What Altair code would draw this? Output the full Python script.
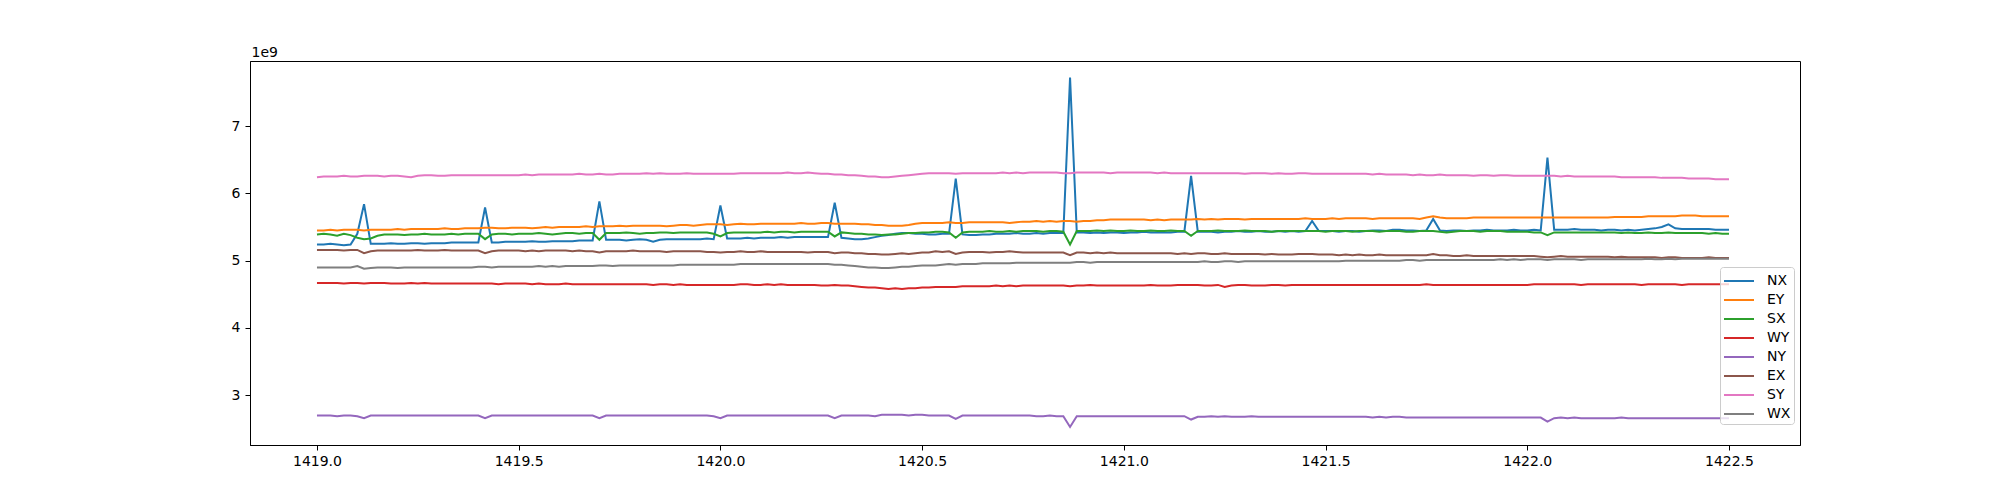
import altair as alt
import pandas as pd

# time axis: 211 samples from 1419.0 to 1422.5
T0 = 1419.0
N = 211
STEP = 1 / 60

series_names = ["NX", "EY", "SX", "WY", "NY", "EX", "SY", "WX"]
series_colors = ["#1f77b4", "#ff7f0e", "#2ca02c", "#d62728",
                 "#9467bd", "#8c564b", "#e377c2", "#7f7f7f"]

# values in units of 1e9
NX = [5.24, 5.24, 5.25, 5.24, 5.23, 5.24, 5.40, 5.84, 5.25, 5.25,
      5.25, 5.26, 5.25, 5.25, 5.26, 5.26, 5.25, 5.26, 5.26, 5.26,
      5.27, 5.27, 5.27, 5.27, 5.27, 5.79, 5.27, 5.27, 5.28, 5.28,
      5.28, 5.28, 5.29, 5.28, 5.28, 5.29, 5.29, 5.29, 5.29, 5.30,
      5.30, 5.30, 5.88, 5.31, 5.31, 5.31, 5.30, 5.31, 5.32, 5.31,
      5.28, 5.31, 5.32, 5.32, 5.32, 5.32, 5.32, 5.32, 5.33, 5.32,
      5.82, 5.33, 5.33, 5.33, 5.34, 5.33, 5.34, 5.34, 5.34, 5.35,
      5.34, 5.35, 5.35, 5.35, 5.35, 5.35, 5.35, 5.86, 5.34, 5.33,
      5.32, 5.32, 5.33, 5.35, 5.37, 5.38, 5.40, 5.41, 5.41, 5.40,
      5.40, 5.39, 5.39, 5.40, 5.40, 6.22, 5.39, 5.38, 5.38, 5.39,
      5.39, 5.40, 5.40, 5.40, 5.41, 5.40, 5.40, 5.41, 5.40, 5.41,
      5.41, 5.41, 7.72, 5.42, 5.42, 5.41, 5.42, 5.41, 5.42, 5.42,
      5.41, 5.42, 5.42, 5.43, 5.42, 5.42, 5.42, 5.42, 5.43, 5.43,
      6.26, 5.43, 5.43, 5.43, 5.42, 5.43, 5.43, 5.44, 5.43, 5.43,
      5.44, 5.43, 5.43, 5.44, 5.43, 5.44, 5.43, 5.44, 5.59, 5.44,
      5.44, 5.44, 5.43, 5.44, 5.44, 5.43, 5.44, 5.45, 5.45, 5.44,
      5.46, 5.46, 5.45, 5.45, 5.44, 5.45, 5.62, 5.45, 5.44, 5.45,
      5.45, 5.44, 5.45, 5.45, 5.46, 5.45, 5.45, 5.45, 5.46, 5.45,
      5.45, 5.46, 5.45, 6.53, 5.46, 5.46, 5.46, 5.47, 5.46, 5.46,
      5.46, 5.45, 5.46, 5.46, 5.45, 5.46, 5.45, 5.46, 5.47, 5.48,
      5.50, 5.54, 5.48, 5.47, 5.47, 5.47, 5.47, 5.47, 5.46, 5.46,
      5.46]

EY = [5.45, 5.45, 5.46, 5.45, 5.46, 5.46, 5.46, 5.45, 5.46, 5.46,
      5.46, 5.46, 5.47, 5.46, 5.47, 5.47, 5.47, 5.47, 5.47, 5.48,
      5.47, 5.47, 5.48, 5.48, 5.48, 5.49, 5.49, 5.48, 5.48, 5.49,
      5.49, 5.49, 5.48, 5.49, 5.50, 5.49, 5.50, 5.50, 5.50, 5.50,
      5.51, 5.50, 5.51, 5.51, 5.51, 5.52, 5.51, 5.52, 5.52, 5.52,
      5.52, 5.52, 5.51, 5.52, 5.53, 5.53, 5.52, 5.53, 5.54, 5.54,
      5.54, 5.53, 5.54, 5.55, 5.54, 5.54, 5.55, 5.55, 5.55, 5.55,
      5.55, 5.55, 5.56, 5.55, 5.55, 5.56, 5.56, 5.55, 5.55, 5.55,
      5.55, 5.54, 5.54, 5.53, 5.53, 5.52, 5.52, 5.52, 5.53, 5.55,
      5.56, 5.56, 5.56, 5.56, 5.57, 5.56, 5.56, 5.57, 5.57, 5.57,
      5.57, 5.57, 5.57, 5.56, 5.57, 5.58, 5.58, 5.59, 5.58, 5.59,
      5.58, 5.59, 5.59, 5.58, 5.59, 5.59, 5.60, 5.60, 5.61, 5.61,
      5.61, 5.61, 5.61, 5.61, 5.60, 5.61, 5.60, 5.61, 5.61, 5.61,
      5.61, 5.62, 5.61, 5.62, 5.61, 5.62, 5.62, 5.62, 5.61, 5.62,
      5.62, 5.62, 5.62, 5.62, 5.62, 5.62, 5.62, 5.63, 5.62, 5.62,
      5.62, 5.63, 5.62, 5.63, 5.63, 5.63, 5.63, 5.62, 5.63, 5.63,
      5.63, 5.63, 5.63, 5.63, 5.62, 5.64, 5.66, 5.64, 5.63, 5.63,
      5.63, 5.63, 5.64, 5.64, 5.64, 5.64, 5.64, 5.64, 5.64, 5.64,
      5.64, 5.64, 5.64, 5.64, 5.64, 5.64, 5.64, 5.64, 5.64, 5.64,
      5.64, 5.64, 5.64, 5.65, 5.65, 5.65, 5.65, 5.65, 5.66, 5.66,
      5.66, 5.66, 5.66, 5.67, 5.67, 5.67, 5.66, 5.66, 5.66, 5.66,
      5.66]

SX = [5.39, 5.40, 5.39, 5.37, 5.40, 5.38, 5.34, 5.32, 5.33, 5.37,
      5.39, 5.39, 5.39, 5.38, 5.39, 5.39, 5.40, 5.39, 5.39, 5.39,
      5.40, 5.39, 5.40, 5.40, 5.40, 5.32, 5.39, 5.40, 5.40, 5.39,
      5.40, 5.40, 5.40, 5.41, 5.40, 5.39, 5.40, 5.41, 5.41, 5.40,
      5.41, 5.41, 5.31, 5.41, 5.41, 5.41, 5.42, 5.41, 5.40, 5.41,
      5.41, 5.42, 5.42, 5.41, 5.42, 5.42, 5.42, 5.42, 5.42, 5.40,
      5.36, 5.41, 5.42, 5.42, 5.42, 5.42, 5.42, 5.43, 5.42, 5.43,
      5.43, 5.42, 5.43, 5.43, 5.43, 5.43, 5.43, 5.36, 5.42, 5.41,
      5.40, 5.40, 5.39, 5.39, 5.38, 5.39, 5.39, 5.40, 5.41, 5.41,
      5.42, 5.42, 5.43, 5.43, 5.42, 5.34, 5.42, 5.43, 5.43, 5.43,
      5.44, 5.43, 5.43, 5.44, 5.43, 5.44, 5.44, 5.44, 5.43, 5.44,
      5.44, 5.43, 5.24, 5.44, 5.44, 5.44, 5.45, 5.44, 5.45, 5.44,
      5.44, 5.45, 5.44, 5.44, 5.45, 5.44, 5.44, 5.45, 5.44, 5.44,
      5.37, 5.44, 5.44, 5.44, 5.45, 5.44, 5.44, 5.44, 5.45, 5.44,
      5.44, 5.44, 5.43, 5.44, 5.44, 5.44, 5.44, 5.44, 5.44, 5.44,
      5.43, 5.44, 5.44, 5.44, 5.43, 5.44, 5.44, 5.44, 5.43, 5.44,
      5.44, 5.44, 5.43, 5.43, 5.44, 5.44, 5.44, 5.43, 5.42, 5.43,
      5.44, 5.44, 5.44, 5.43, 5.44, 5.44, 5.44, 5.43, 5.43, 5.43,
      5.43, 5.42, 5.42, 5.38, 5.42, 5.42, 5.42, 5.42, 5.42, 5.42,
      5.42, 5.42, 5.42, 5.42, 5.41, 5.42, 5.41, 5.41, 5.42, 5.41,
      5.41, 5.42, 5.41, 5.41, 5.41, 5.41, 5.41, 5.40, 5.41, 5.40,
      5.40]

WY = [4.67, 4.67, 4.67, 4.67, 4.66, 4.67, 4.67, 4.66, 4.67, 4.67,
      4.67, 4.66, 4.66, 4.66, 4.67, 4.66, 4.67, 4.66, 4.66, 4.66,
      4.66, 4.66, 4.66, 4.66, 4.66, 4.66, 4.66, 4.65, 4.66, 4.66,
      4.66, 4.66, 4.65, 4.66, 4.65, 4.65, 4.65, 4.66, 4.65, 4.65,
      4.65, 4.65, 4.65, 4.65, 4.65, 4.65, 4.65, 4.65, 4.65, 4.65,
      4.64, 4.65, 4.65, 4.64, 4.65, 4.64, 4.64, 4.64, 4.64, 4.64,
      4.64, 4.64, 4.64, 4.65, 4.65, 4.64, 4.64, 4.65, 4.64, 4.65,
      4.64, 4.64, 4.64, 4.64, 4.64, 4.63, 4.63, 4.64, 4.63, 4.63,
      4.62, 4.61, 4.60, 4.60, 4.59, 4.58, 4.59, 4.58, 4.59, 4.59,
      4.60, 4.60, 4.61, 4.61, 4.61, 4.61, 4.62, 4.62, 4.62, 4.62,
      4.62, 4.63, 4.62, 4.63, 4.62, 4.63, 4.63, 4.63, 4.63, 4.63,
      4.63, 4.63, 4.62, 4.63, 4.63, 4.64, 4.63, 4.63, 4.63, 4.63,
      4.63, 4.63, 4.63, 4.63, 4.64, 4.63, 4.63, 4.63, 4.64, 4.64,
      4.64, 4.64, 4.63, 4.63, 4.64, 4.61, 4.63, 4.64, 4.64, 4.63,
      4.63, 4.63, 4.64, 4.64, 4.63, 4.64, 4.64, 4.64, 4.64, 4.64,
      4.64, 4.64, 4.64, 4.64, 4.64, 4.64, 4.64, 4.64, 4.64, 4.64,
      4.64, 4.64, 4.64, 4.64, 4.64, 4.65, 4.64, 4.64, 4.64, 4.64,
      4.64, 4.64, 4.64, 4.64, 4.64, 4.64, 4.64, 4.64, 4.64, 4.64,
      4.64, 4.65, 4.65, 4.65, 4.65, 4.65, 4.65, 4.65, 4.64, 4.65,
      4.65, 4.65, 4.65, 4.65, 4.65, 4.65, 4.65, 4.64, 4.65, 4.65,
      4.65, 4.65, 4.65, 4.64, 4.65, 4.65, 4.65, 4.65, 4.65, 4.65,
      4.65]

NY = [2.70, 2.70, 2.70, 2.69, 2.70, 2.70, 2.69, 2.66, 2.70, 2.70,
      2.70, 2.70, 2.70, 2.70, 2.70, 2.70, 2.70, 2.70, 2.70, 2.70,
      2.70, 2.70, 2.70, 2.70, 2.70, 2.66, 2.70, 2.70, 2.70, 2.70,
      2.70, 2.70, 2.70, 2.70, 2.70, 2.70, 2.70, 2.70, 2.70, 2.70,
      2.70, 2.70, 2.66, 2.70, 2.70, 2.70, 2.70, 2.70, 2.70, 2.70,
      2.70, 2.70, 2.70, 2.70, 2.70, 2.70, 2.70, 2.70, 2.70, 2.69,
      2.66, 2.70, 2.70, 2.70, 2.70, 2.70, 2.70, 2.70, 2.70, 2.70,
      2.70, 2.70, 2.70, 2.70, 2.70, 2.70, 2.70, 2.66, 2.70, 2.70,
      2.70, 2.70, 2.70, 2.69, 2.71, 2.71, 2.71, 2.71, 2.70, 2.71,
      2.71, 2.70, 2.70, 2.70, 2.70, 2.65, 2.70, 2.70, 2.70, 2.70,
      2.70, 2.70, 2.70, 2.70, 2.70, 2.70, 2.70, 2.69, 2.69, 2.70,
      2.69, 2.69, 2.53, 2.69, 2.69, 2.69, 2.69, 2.69, 2.69, 2.69,
      2.69, 2.69, 2.69, 2.69, 2.69, 2.69, 2.69, 2.69, 2.69, 2.69,
      2.64, 2.68, 2.68, 2.69, 2.68, 2.69, 2.68, 2.68, 2.68, 2.69,
      2.68, 2.68, 2.68, 2.68, 2.68, 2.68, 2.68, 2.68, 2.68, 2.68,
      2.68, 2.68, 2.68, 2.68, 2.68, 2.68, 2.68, 2.67, 2.68, 2.67,
      2.68, 2.68, 2.67, 2.67, 2.67, 2.67, 2.67, 2.67, 2.67, 2.67,
      2.67, 2.67, 2.67, 2.67, 2.67, 2.67, 2.67, 2.67, 2.67, 2.67,
      2.67, 2.67, 2.67, 2.61, 2.66, 2.67, 2.66, 2.67, 2.66, 2.66,
      2.66, 2.66, 2.66, 2.66, 2.67, 2.66, 2.66, 2.66, 2.66, 2.66,
      2.66, 2.66, 2.66, 2.66, 2.66, 2.66, 2.66, 2.66, 2.66, 2.66,
      2.66]

EX = [5.16, 5.16, 5.16, 5.16, 5.15, 5.16, 5.16, 5.11, 5.14, 5.15,
      5.15, 5.15, 5.15, 5.15, 5.15, 5.16, 5.15, 5.15, 5.15, 5.16,
      5.15, 5.15, 5.15, 5.15, 5.15, 5.11, 5.14, 5.15, 5.15, 5.15,
      5.15, 5.14, 5.15, 5.14, 5.15, 5.15, 5.15, 5.15, 5.14, 5.15,
      5.14, 5.14, 5.12, 5.14, 5.14, 5.14, 5.14, 5.15, 5.14, 5.14,
      5.14, 5.14, 5.13, 5.14, 5.14, 5.14, 5.14, 5.14, 5.13, 5.13,
      5.12, 5.13, 5.13, 5.14, 5.13, 5.13, 5.14, 5.13, 5.13, 5.13,
      5.13, 5.13, 5.13, 5.12, 5.13, 5.13, 5.13, 5.11, 5.12, 5.12,
      5.11, 5.11, 5.10, 5.10, 5.09, 5.09, 5.10, 5.11, 5.10, 5.11,
      5.12, 5.12, 5.14, 5.13, 5.14, 5.10, 5.12, 5.13, 5.13, 5.13,
      5.12, 5.13, 5.13, 5.14, 5.13, 5.12, 5.12, 5.12, 5.12, 5.12,
      5.12, 5.12, 5.08, 5.12, 5.12, 5.11, 5.12, 5.11, 5.12, 5.11,
      5.11, 5.11, 5.11, 5.11, 5.11, 5.11, 5.11, 5.11, 5.10, 5.11,
      5.10, 5.11, 5.11, 5.10, 5.10, 5.11, 5.10, 5.10, 5.10, 5.10,
      5.10, 5.09, 5.10, 5.09, 5.09, 5.09, 5.10, 5.10, 5.10, 5.09,
      5.09, 5.09, 5.08, 5.09, 5.08, 5.09, 5.08, 5.08, 5.09, 5.08,
      5.08, 5.08, 5.08, 5.08, 5.08, 5.08, 5.10, 5.08, 5.08, 5.07,
      5.07, 5.08, 5.07, 5.07, 5.07, 5.07, 5.07, 5.07, 5.07, 5.07,
      5.07, 5.07, 5.06, 5.05, 5.06, 5.07, 5.06, 5.06, 5.06, 5.06,
      5.06, 5.06, 5.06, 5.05, 5.06, 5.05, 5.05, 5.05, 5.05, 5.05,
      5.04, 5.05, 5.05, 5.04, 5.04, 5.04, 5.04, 5.05, 5.04, 5.04,
      5.04]

SY = [6.24, 6.25, 6.25, 6.25, 6.26, 6.25, 6.25, 6.26, 6.26, 6.26,
      6.25, 6.26, 6.26, 6.25, 6.24, 6.26, 6.27, 6.27, 6.26, 6.26,
      6.27, 6.27, 6.27, 6.27, 6.27, 6.27, 6.27, 6.27, 6.27, 6.27,
      6.27, 6.28, 6.27, 6.28, 6.28, 6.28, 6.28, 6.28, 6.28, 6.29,
      6.28, 6.28, 6.29, 6.28, 6.28, 6.29, 6.29, 6.29, 6.29, 6.30,
      6.29, 6.30, 6.29, 6.29, 6.29, 6.30, 6.29, 6.29, 6.29, 6.29,
      6.29, 6.29, 6.29, 6.30, 6.30, 6.30, 6.30, 6.30, 6.30, 6.30,
      6.31, 6.30, 6.30, 6.31, 6.30, 6.29, 6.29, 6.28, 6.28, 6.27,
      6.27, 6.26, 6.25, 6.25, 6.24, 6.24, 6.25, 6.26, 6.27, 6.28,
      6.29, 6.30, 6.30, 6.30, 6.30, 6.29, 6.30, 6.30, 6.30, 6.30,
      6.30, 6.30, 6.31, 6.30, 6.31, 6.30, 6.31, 6.31, 6.31, 6.31,
      6.31, 6.30, 6.30, 6.31, 6.31, 6.31, 6.31, 6.31, 6.30, 6.31,
      6.31, 6.31, 6.31, 6.31, 6.31, 6.30, 6.31, 6.30, 6.30, 6.30,
      6.30, 6.30, 6.30, 6.30, 6.30, 6.30, 6.30, 6.30, 6.29, 6.30,
      6.30, 6.30, 6.29, 6.30, 6.29, 6.29, 6.30, 6.30, 6.29, 6.29,
      6.29, 6.29, 6.29, 6.29, 6.29, 6.29, 6.29, 6.28, 6.29, 6.28,
      6.28, 6.28, 6.28, 6.27, 6.28, 6.27, 6.27, 6.28, 6.27, 6.27,
      6.27, 6.27, 6.26, 6.27, 6.27, 6.26, 6.27, 6.27, 6.26, 6.26,
      6.26, 6.26, 6.26, 6.26, 6.26, 6.25, 6.26, 6.25, 6.25, 6.25,
      6.25, 6.25, 6.25, 6.25, 6.24, 6.24, 6.24, 6.24, 6.24, 6.24,
      6.23, 6.23, 6.23, 6.23, 6.22, 6.22, 6.22, 6.22, 6.21, 6.21,
      6.21]

WX = [4.90, 4.90, 4.90, 4.90, 4.90, 4.90, 4.92, 4.88, 4.89, 4.90,
      4.90, 4.90, 4.89, 4.90, 4.90, 4.90, 4.90, 4.90, 4.90, 4.90,
      4.90, 4.90, 4.90, 4.90, 4.91, 4.91, 4.90, 4.91, 4.91, 4.91,
      4.91, 4.91, 4.91, 4.92, 4.91, 4.92, 4.91, 4.92, 4.92, 4.92,
      4.92, 4.92, 4.93, 4.93, 4.92, 4.93, 4.93, 4.93, 4.93, 4.93,
      4.93, 4.93, 4.93, 4.93, 4.94, 4.94, 4.94, 4.94, 4.94, 4.94,
      4.94, 4.94, 4.94, 4.95, 4.95, 4.95, 4.95, 4.95, 4.95, 4.95,
      4.95, 4.95, 4.95, 4.95, 4.95, 4.95, 4.95, 4.94, 4.94, 4.93,
      4.92, 4.91, 4.90, 4.90, 4.89, 4.89, 4.90, 4.91, 4.91, 4.92,
      4.93, 4.93, 4.93, 4.94, 4.95, 4.94, 4.95, 4.95, 4.95, 4.96,
      4.96, 4.96, 4.96, 4.96, 4.97, 4.97, 4.97, 4.97, 4.97, 4.97,
      4.97, 4.97, 4.97, 4.98, 4.98, 4.97, 4.98, 4.98, 4.98, 4.98,
      4.98, 4.98, 4.98, 4.98, 4.98, 4.98, 4.98, 4.98, 4.98, 4.98,
      4.98, 4.98, 4.99, 4.98, 4.98, 4.99, 4.99, 4.98, 4.99, 4.99,
      4.99, 4.99, 4.99, 4.99, 4.99, 4.99, 4.99, 4.99, 4.99, 4.99,
      4.99, 4.99, 4.99, 5.00, 5.00, 5.00, 5.00, 5.00, 5.00, 5.00,
      5.00, 5.00, 5.01, 5.01, 5.00, 5.01, 5.01, 5.01, 5.01, 5.01,
      5.01, 5.01, 5.01, 5.01, 5.01, 5.01, 5.02, 5.01, 5.02, 5.01,
      5.02, 5.02, 5.02, 5.01, 5.02, 5.02, 5.02, 5.02, 5.01, 5.02,
      5.02, 5.02, 5.02, 5.02, 5.02, 5.02, 5.02, 5.02, 5.03, 5.02,
      5.02, 5.03, 5.02, 5.03, 5.03, 5.03, 5.03, 5.03, 5.03, 5.03,
      5.03]

x_ticks = [1419.0, 1419.5, 1420.0, 1420.5, 1421.0, 1421.5, 1422.0, 1422.5]
y_ticks = [3, 4, 5, 6, 7]

all_values = {"NX": NX, "EY": EY, "SX": SX, "WY": WY,
              "NY": NY, "EX": EX, "SY": SY, "WX": WX}

rows = []
for order, name in enumerate(series_names):
    vals = all_values[name]
    for i, v in enumerate(vals):
        rows.append({"t": T0 + i * STEP, "v": v, "series": name, "k": order})
df = pd.DataFrame(rows)

FONT = "DejaVu Sans"

chart = alt.Chart(df).mark_line(strokeWidth=2, clip=True).encode(
    x=alt.X("t:Q",
            scale=alt.Scale(domain=[1418.834, 1422.676], nice=False, zero=False),
            axis=alt.Axis(values=x_ticks, format=".1f", title=None, grid=False,
                          tickSize=5, tickColor="black", domainColor="black",
                          labelColor="black", labelFontSize=14, labelFont=FONT,
                          labelPadding=4, labelFlush=False)),
    y=alt.Y("v:Q",
            scale=alt.Scale(domain=[2.262, 7.966], nice=False, zero=False),
            axis=alt.Axis(values=y_ticks, format="d", title="1e9", grid=False,
                          titleAngle=0, titleX=1, titleY=-5, titleAlign="left",
                          titleBaseline="alphabetic", titleFontWeight="normal",
                          titleFontSize=14, titleFont=FONT, titleColor="black",
                          tickSize=5, tickColor="black", domainColor="black",
                          labelColor="black", labelFontSize=14, labelFont=FONT,
                          labelPadding=5)),
    color=alt.Color("series:N",
                    scale=alt.Scale(domain=series_names, range=series_colors),
                    sort=series_names,
                    legend=alt.Legend(title=None, orient="none",
                                      legendX=1470, legendY=206,
                                      symbolType="M-1,0H2", symbolSize=400,
                                      symbolStrokeWidth=2, rowPadding=1,
                                      labelOffset=22, labelFontSize=14,
                                      labelFont=FONT, labelColor="black",
                                      padding=3, strokeColor="#cccccc",
                                      cornerRadius=3,
                                      fillColor="rgba(255,255,255,0.8)")),
    order=alt.Order("k:Q"),
    detail="series:N",
).properties(
    width=1550,
    height=384,
    autosize=alt.AutoSizeParams(type="none"),
    padding={"left": 242, "top": 53, "right": 150, "bottom": 40},
).configure_view(
    stroke="black", strokeWidth=1
).configure_axis(
    domainWidth=1, tickWidth=1
)

chart.save("out.html", embed_options={"renderer": "svg", "actions": False})
